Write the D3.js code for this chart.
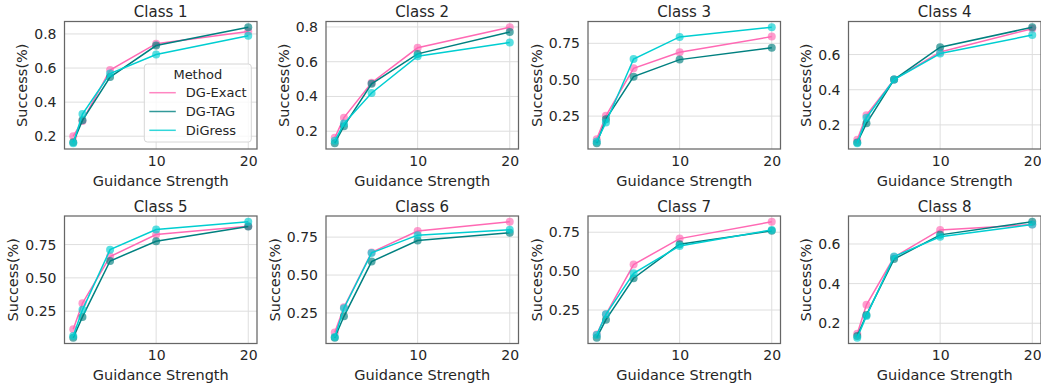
<!DOCTYPE html>
<html>
<head>
<meta charset="utf-8">
<script src="https://cdn.jsdelivr.net/npm/d3@7"></script>
<style>
  body { margin: 0; background: #fff; }
  text { font-family: "DejaVu Sans", sans-serif; fill: #262626; }
</style>
</head>
<body>
<script>
// guidance strengths on the x axis
var xValues = [1, 2, 5, 10, 20];
var methods = ["DG-Exact", "DG-TAG", "DiGress"];
var colors = ["#ff69b4", "#008080", "#00ced1"];
var classNames = ["Class 1", "Class 2", "Class 3", "Class 4", "Class 5", "Class 6", "Class 7", "Class 8"];

// success rate per class (one row per class, one value per guidance strength)
var dgExact = [
  [0.200, 0.290, 0.588, 0.743, 0.814],
  [0.162, 0.278, 0.479, 0.680, 0.798],
  [0.092, 0.252, 0.578, 0.688, 0.796],
  [0.115, 0.255, 0.458, 0.615, 0.747],
  [0.114, 0.310, 0.660, 0.825, 0.888],
  [0.122, 0.287, 0.649, 0.790, 0.851],
  [0.093, 0.222, 0.542, 0.709, 0.817],
  [0.147, 0.293, 0.534, 0.671, 0.698]
];
var dgTag = [
  [0.165, 0.293, 0.547, 0.732, 0.839],
  [0.131, 0.229, 0.473, 0.645, 0.771],
  [0.064, 0.229, 0.521, 0.638, 0.720],
  [0.100, 0.209, 0.458, 0.642, 0.755],
  [0.051, 0.207, 0.627, 0.775, 0.886],
  [0.087, 0.228, 0.589, 0.728, 0.779],
  [0.072, 0.188, 0.454, 0.673, 0.759],
  [0.136, 0.242, 0.524, 0.646, 0.712]
];
var digress = [
  [0.159, 0.330, 0.568, 0.679, 0.790],
  [0.145, 0.244, 0.420, 0.632, 0.710],
  [0.076, 0.206, 0.642, 0.794, 0.860],
  [0.096, 0.241, 0.458, 0.606, 0.711],
  [0.064, 0.260, 0.712, 0.863, 0.921],
  [0.091, 0.281, 0.646, 0.763, 0.798],
  [0.089, 0.222, 0.486, 0.662, 0.765],
  [0.127, 0.237, 0.537, 0.636, 0.698]
];

// tick labels
var xTicks = [10, 20];
var yTicks = [
  ["0.2", "0.4", "0.6", "0.8"],
  ["0.2", "0.4", "0.6", "0.8"],
  ["0.25", "0.50", "0.75"],
  ["0.2", "0.4", "0.6"],
  ["0.25", "0.50", "0.75"],
  ["0.25", "0.50", "0.75"],
  ["0.25", "0.50", "0.75"],
  ["0.2", "0.4", "0.6"]
];

var width = 1041, height = 383;
var svg = d3.select("body").append("svg")
  .attr("width", width)
  .attr("height", height);

// axes boxes
var colLeft = [64.5, 326, 588, 848.5];
var rowTop = [21.5, 216];
var plotW = 192.5, plotH = 127.5;

var allSeries = [dgExact, dgTag, digress];

classNames.forEach(function (name, k) {
  var col = k % 4, row = Math.floor(k / 4);
  var g = svg.append("g")
    .attr("transform", "translate(" + colLeft[col] + "," + rowTop[row] + ")");

  var vals = [];
  allSeries.forEach(function (s) { vals = vals.concat(s[k]); });
  var ymin = d3.min(vals), ymax = d3.max(vals);
  var ypad = (ymax - ymin) * 0.05;
  var xpad = (20 - 1) * 0.05;

  var x = d3.scaleLinear().domain([1 - xpad, 20 + xpad]).range([0, plotW]);
  var y = d3.scaleLinear().domain([ymin - ypad, ymax + ypad]).range([plotH, 0]);
  var yTickVals = yTicks[k].map(Number);

  // grid
  g.append("g").selectAll("line").data(xTicks).enter().append("line")
    .attr("x1", function (d) { return x(d); })
    .attr("x2", function (d) { return x(d); })
    .attr("y1", 0).attr("y2", plotH)
    .attr("stroke", "#dedede").attr("stroke-width", 1);
  g.append("g").selectAll("line").data(yTickVals).enter().append("line")
    .attr("y1", function (d) { return y(d); })
    .attr("y2", function (d) { return y(d); })
    .attr("x1", 0).attr("x2", plotW)
    .attr("stroke", "#dedede").attr("stroke-width", 1);

  // axes
  var xAxis = d3.axisBottom(x).tickValues(xTicks).tickSize(0).tickPadding(7)
    .tickFormat(d3.format("d"));
  var yAxis = d3.axisLeft(y).tickValues(yTickVals).tickSize(0).tickPadding(8)
    .tickFormat(function (d, i) { return yTicks[k][i]; });

  var gx = g.append("g").attr("transform", "translate(0," + plotH + ")").call(xAxis);
  var gy = g.append("g").call(yAxis);
  [gx, gy].forEach(function (a) {
    a.select(".domain").remove();
    a.selectAll("text").style("font-size", "14px").style("font-family", "DejaVu Sans").attr("fill", "#262626");
  });

  // lines and markers
  var line = d3.line()
    .x(function (d, i) { return x(xValues[i]); })
    .y(function (d) { return y(d); });

  allSeries.forEach(function (s, m) {
    g.append("path")
      .datum(s[k])
      .attr("fill", "none")
      .attr("stroke", colors[m])
      .attr("stroke-width", 1.5)
      .attr("d", line);
    g.append("g").selectAll("circle").data(s[k]).enter().append("circle")
      .attr("cx", function (d, i) { return x(xValues[i]); })
      .attr("cy", function (d) { return y(d); })
      .attr("r", 4)
      .attr("fill", colors[m])
      .attr("opacity", 0.65);
  });

  // frame
  g.append("rect")
    .attr("width", plotW).attr("height", plotH)
    .attr("fill", "none").attr("stroke", "#666").attr("stroke-width", 1.25);

  // title and labels
  g.append("text")
    .attr("x", plotW / 2).attr("y", -4.5)
    .attr("text-anchor", "middle")
    .style("font-size", "15px")
    .text(name);

  g.append("text")
    .attr("x", plotW / 2).attr("y", plotH + 36.5)
    .attr("text-anchor", "middle")
    .style("font-size", "14.5px")
    .text("Guidance Strength");

  var tickW = d3.max(gy.selectAll("text").nodes(), function (n) { return n.getBBox().width; });
  g.append("text")
    .attr("transform", "translate(" + (-8 - tickW - 7) + "," + (plotH / 2) + ") rotate(-90)")
    .attr("text-anchor", "middle")
    .style("font-size", "14.5px")
    .text("Success(%)");

  // legend only in the first panel
  if (k === 0) {
    var lg = g.append("g").attr("transform", "translate(" + (144.3 - colLeft[0]) + "," + (64 - rowTop[0]) + ")");
    lg.append("rect")
      .attr("width", 107).attr("height", 78).attr("rx", 3)
      .attr("fill", "#fff").attr("fill-opacity", 0.8)
      .attr("stroke", "#d6d6d6");
    lg.append("text")
      .attr("x", 53.5).attr("y", 14.5)
      .attr("text-anchor", "middle")
      .style("font-size", "13px")
      .text("Method");
    methods.forEach(function (mName, m) {
      var ly = 28.7 + m * 18.8;
      lg.append("line")
        .attr("x1", 5).attr("x2", 31.5)
        .attr("y1", ly).attr("y2", ly)
        .attr("stroke", colors[m]).attr("stroke-width", 1.5)
        .attr("opacity", 0.8);
      lg.append("text")
        .attr("x", 41.5).attr("y", ly + 4.5)
        .style("font-size", "13px")
        .text(mName);
    });
  }
});
</script>
</body>
</html>
